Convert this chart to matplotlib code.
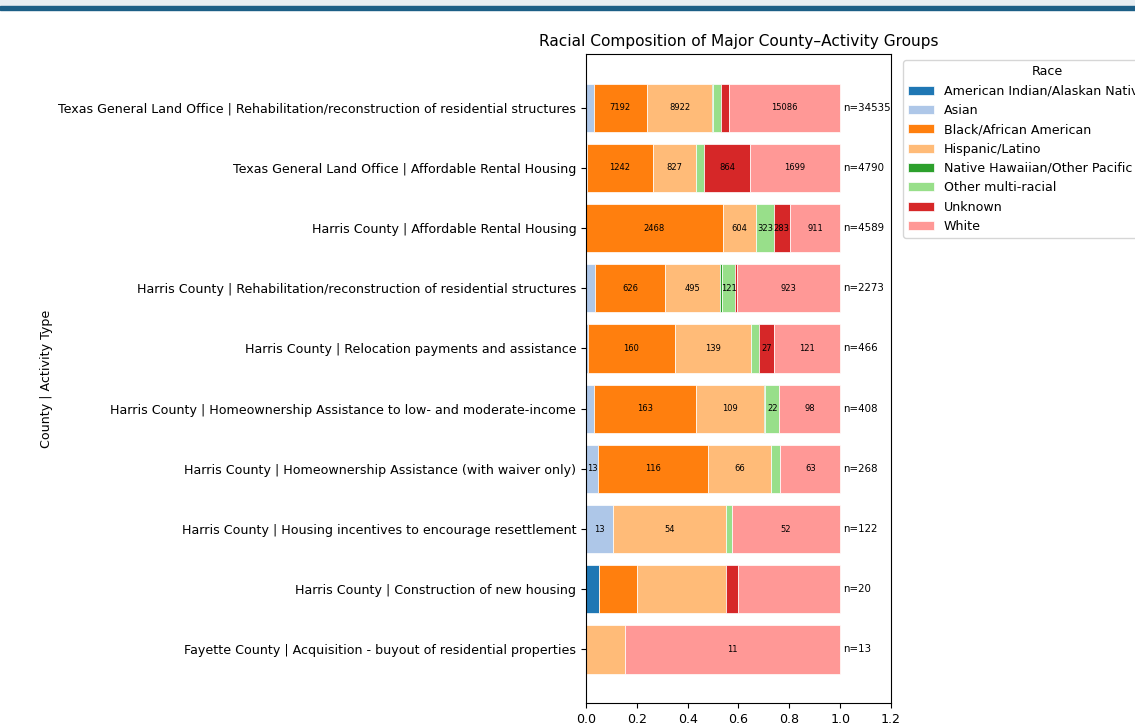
import numpy as np
import matplotlib
matplotlib.use("Agg")
from matplotlib import pyplot as plt
from matplotlib.patches import Rectangle

# county | activity groups, top to bottom
groups = [
    "Texas General Land Office | Rehabilitation/reconstruction of residential structures",
    "Texas General Land Office | Affordable Rental Housing",
    "Harris County | Affordable Rental Housing",
    "Harris County | Rehabilitation/reconstruction of residential structures",
    "Harris County | Relocation payments and assistance",
    "Harris County | Homeownership Assistance to low- and moderate-income",
    "Harris County | Homeownership Assistance (with waiver only)",
    "Harris County | Housing incentives to encourage resettlement",
    "Harris County | Construction of new housing",
    "Fayette County | Acquisition - buyout of residential properties",
]

races = [
    "American Indian/Alaskan Native",
    "Asian",
    "Black/African American",
    "Hispanic/Latino",
    "Native Hawaiian/Other Pacific Islander",
    "Other multi-racial",
    "Unknown",
    "White",
]

# counts per race (same order as groups)
amind = [0, 0, 0, 0, 0, 0, 0, 0, 1, 0]
asian = [1070, 12, 0, 80, 3, 13, 13, 13, 0, 0]
black = [7192, 1242, 2468, 626, 160, 163, 116, 0, 3, 0]
hispanic = [8922, 827, 604, 495, 139, 109, 66, 54, 7, 2]
nhpi = [100, 0, 0, 15, 0, 3, 0, 0, 0, 0]
multi = [1028, 146, 323, 121, 16, 22, 10, 3, 0, 0]
unknown = [1137, 864, 283, 13, 27, 0, 0, 0, 1, 0]
white = [15086, 1699, 911, 923, 121, 98, 63, 52, 8, 11]

counts = np.array([amind, asian, black, hispanic, nhpi, multi, unknown, white], dtype=float)
totals = counts.sum(axis=0)
shares = counts / totals

colors = plt.get_cmap("tab20").colors[:8]

plt.rcParams["font.size"] = 9.1

fig = plt.figure(figsize=(11.35, 7.25), dpi=100)
ax = fig.add_axes([0.5163, 0.0303, 0.2687, 0.8952])

# page header strip
fig.patches.append(Rectangle((0, 0.9917), 1, 0.0083, transform=fig.transFigure,
                             color="#e6edf2", zorder=0))
fig.patches.append(Rectangle((0, 0.9862), 1, 0.0062, transform=fig.transFigure,
                             color="#1b5e86", zorder=1))

y = np.arange(len(groups))
left = np.zeros(len(groups))
for i, race in enumerate(races):
    ax.barh(y, shares[i], left=left, height=0.8, color=colors[i],
            edgecolor="white", linewidth=0.5, label=race)
    for j in range(len(groups)):
        if shares[i, j] >= 0.04 and counts[i, j] >= 10:
            ax.text(left[j] + shares[i, j] / 2, y[j], f"{int(counts[i, j])}",
                    ha="center", va="center", fontsize=6)
    left += shares[i]

for j in range(len(groups)):
    ax.text(1.01, y[j], f"n={int(totals[j])}", ha="left", va="center", fontsize=7.4)

ax.set_yticks(y)
ax.set_yticklabels(groups)
ax.invert_yaxis()
ax.set_xlim(0, 1.2)
ax.set_ylabel("County | Activity Type")
ax.set_title("Racial Composition of Major County\u2013Activity Groups", fontsize=11.1)
ax.legend(title="Race", bbox_to_anchor=(1.02, 1), loc="upper left")

fig.savefig("out.png", dpi=100)
